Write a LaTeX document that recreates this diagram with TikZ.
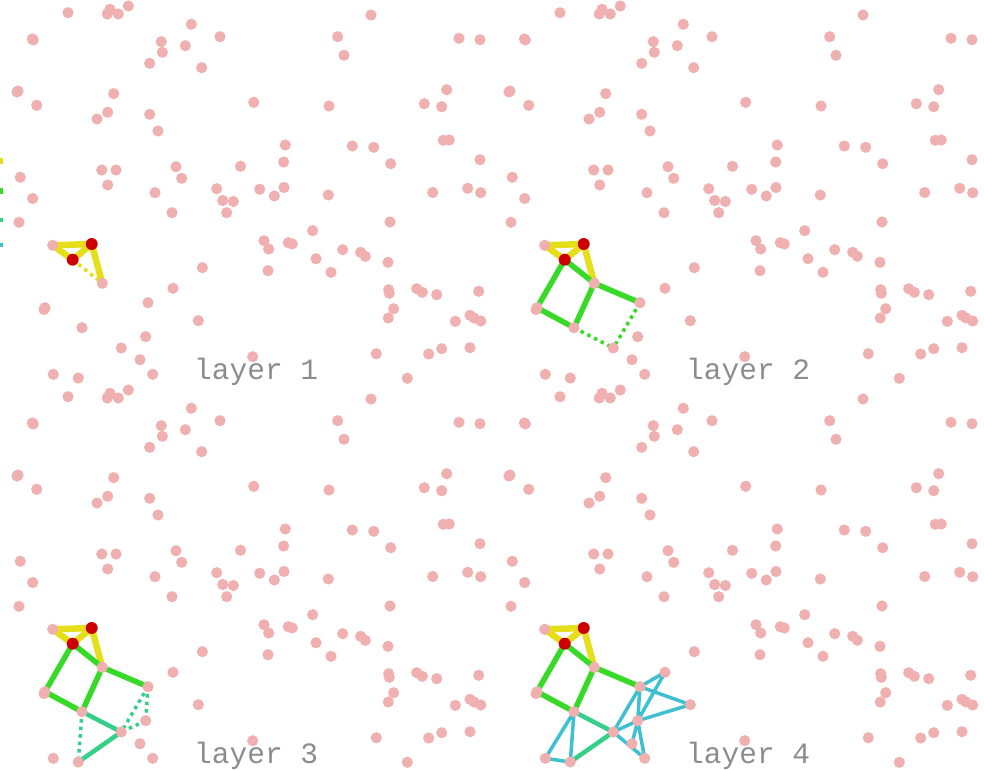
\documentclass[tikz,border=0pt]{standalone}
\usepackage{fontspec}
\newfontfamily\labelfont{Liberation Mono}

\definecolor{dotpink}{RGB}{240,176,176}
\definecolor{vred}{RGB}{204,0,0}
\definecolor{lyellow}{RGB}{230,222,26}
\definecolor{lgreen}{RGB}{56,218,40}
\definecolor{lteal}{RGB}{52,208,136}
\definecolor{lcyan}{RGB}{62,192,210}

% the same cloud of points in every panel
\newcommand{\dotfield}{%
  \foreach \px/\py in {68/12.7,110/9.3,107.3/14,118.3/14,128.3/6,191.3/24.3,
      220/36.7,33.3/40,32.5/39,161.3/41.7,162.3/52.3,185.3/45.7,149.7/63.3,
      201.7/67.7,18/91,17/92,113.7/93.7,36.7/105.3,107.7/112.3,97/119,
      149.7/114.3,158/131,253.7/102.3,176/166.7,240.5/166.3,20.3/177.3,
      101.7/170,116/170,181.7/178.3,107.7/185,155/192.7,216.7/188.7,
      32.7/198.5,222.7/200.5,233.3/201.5,371/15,337.7/36.7,344/55.3,
      459/38.3,480/39.7,446.7/89.7,424.3/103.7,441.7/106.7,329/106,
      285.3/145,352.3/146,373.7/147.3,443.3/140.3,449.3/140,283.7/162,
      390.7/163.7,480/159.7,259.7/189.3,274.3/196,284/187.5,328.3/195,
      432.7/192.5,467.7/188.3,480.7/192.7,226.7/212.7,172/212.7,19/222.3,
      52.7/245.3,102.3/283.3,202.3/267.7,173/288.3,148/302.7,45/307.7,
      44/309.5,198.3/320.7,82/327.7,145.7/336.7,121.3/348,140/359.7,
      53.3/374.3,78.3/378,152.7/374.3,252.7/356.7,390/222,312.7/230.7,
      264/240.7,268.7/249,288.3/242.7,292.3/244,316/258.7,342.7/249.7,
      360.7/252.3,365.3/256.3,331/272.3,268/270.7,388/262.3,388.7/289.7,
      389.3/293.3,416.7/288.7,422.3/292.3,436.7/294.7,478.7/291.3,
      393.7/308.7,388.3/318,455.3/321.3,470/315.3,474/318,480.7/321,
      441.7/348.7,428.7/354,470/347.7,376.3/353.7,407.3/378.3}
    \fill[dotpink] (\px,\py) circle (5.6pt);
}

\newcommand{\vertices}{%
  \coordinate (A) at (52.7,245.3);
  \coordinate (B) at (91.7,244);
  \coordinate (C) at (72.7,259.7);
  \coordinate (D) at (102.3,283.3);
  \coordinate (E) at (45,307.7);
  \coordinate (F) at (82,327.7);
  \coordinate (G) at (148,302.7);
  \coordinate (H) at (121.3,348);
  \coordinate (I) at (78.3,378);
  \coordinate (J) at (145.7,336.7);
  \coordinate (K) at (173,288.3);
  \coordinate (L) at (198.3,320.7);
  \coordinate (M) at (140,359.7);
  \coordinate (N) at (152.7,374.3);
  \coordinate (O) at (53.3,374.3);
}

\newcommand{\edgesone}{\draw[ly] (A) -- (B) -- (C) -- cycle (B) -- (D);}
\newcommand{\edgestwo}{\draw[lg] (C) -- (D) (C) -- (E) (E) -- (F) (F) -- (D) (D) -- (G);}
\newcommand{\edgesthree}{\draw[lt] (F) -- (H) (H) -- (I);}
\newcommand{\edgesfour}{\draw[lc] (F) -- (I) (F) -- (O) (O) -- (I)
  (G) -- (H) (G) -- (J) (J) -- (H) (G) -- (K) (G) -- (L) (K) -- (J)
  (J) -- (L) (J) -- (M) (J) -- (N) (H) -- (N);}
\newcommand{\reddots}{\fill[vred] (B) circle (6pt) (C) circle (6pt);}

\begin{document}
\begin{tikzpicture}[
    x=1pt, y=-1pt,
    ly/.style={lyellow, line width=6.5pt, line cap=round, line join=round},
    lg/.style={lgreen, line width=5.5pt, line cap=round},
    lt/.style={lteal, line width=4.5pt, line cap=round},
    lc/.style={lcyan, line width=3.5pt, line cap=round},
    dots/.style={line width=3.5pt, dash pattern=on 3.5pt off 4pt},
    lbl/.style={font=\labelfont\fontsize{29.5}{31}\selectfont, text=black!45,
      anchor=base west, inner sep=0pt}
]
\useasboundingbox (0,0) rectangle (984,770);

% legend, cut off at the left edge
\draw[lyellow, line width=6.5pt] (-20,161) -- (3,161);
\draw[lgreen, line width=5.5pt] (-20,191) -- (3,191);
\draw[lteal, line width=4.5pt] (-20,220) -- (3,220);
\draw[lcyan, line width=3.5pt] (-20,245) -- (3,245);

\begin{scope}
  \vertices
  \edgesone
  \draw[dots, lyellow] (C) -- (D);
  \dotfield
  \reddots
  \node[lbl] (lab1) at (194,379) {layer 1};
\end{scope}

\begin{scope}[shift={(492,0)}]
  \vertices
  \edgesone \edgestwo
  \draw[dots, lgreen] (F) -- (H) (G) -- (H);
  \dotfield
  \reddots
  \node[lbl] (lab2) at (194,379) {layer 2};
\end{scope}

\begin{scope}[shift={(0,384)}]
  \vertices
  \edgesone \edgestwo \edgesthree
  \draw[dots, lteal] (F) -- (I) (G) -- (H) (G) -- (J) (J) -- (H);
  \dotfield
  \reddots
  \node[lbl] (lab3) at (194,379) {layer 3};
\end{scope}

\begin{scope}[shift={(492,384)}]
  \vertices
  \edgesone \edgestwo \edgesthree \edgesfour
  \dotfield
  \reddots
  \node[lbl] (lab4) at (194,379) {layer 4};
\end{scope}
\end{tikzpicture}
\end{document}
